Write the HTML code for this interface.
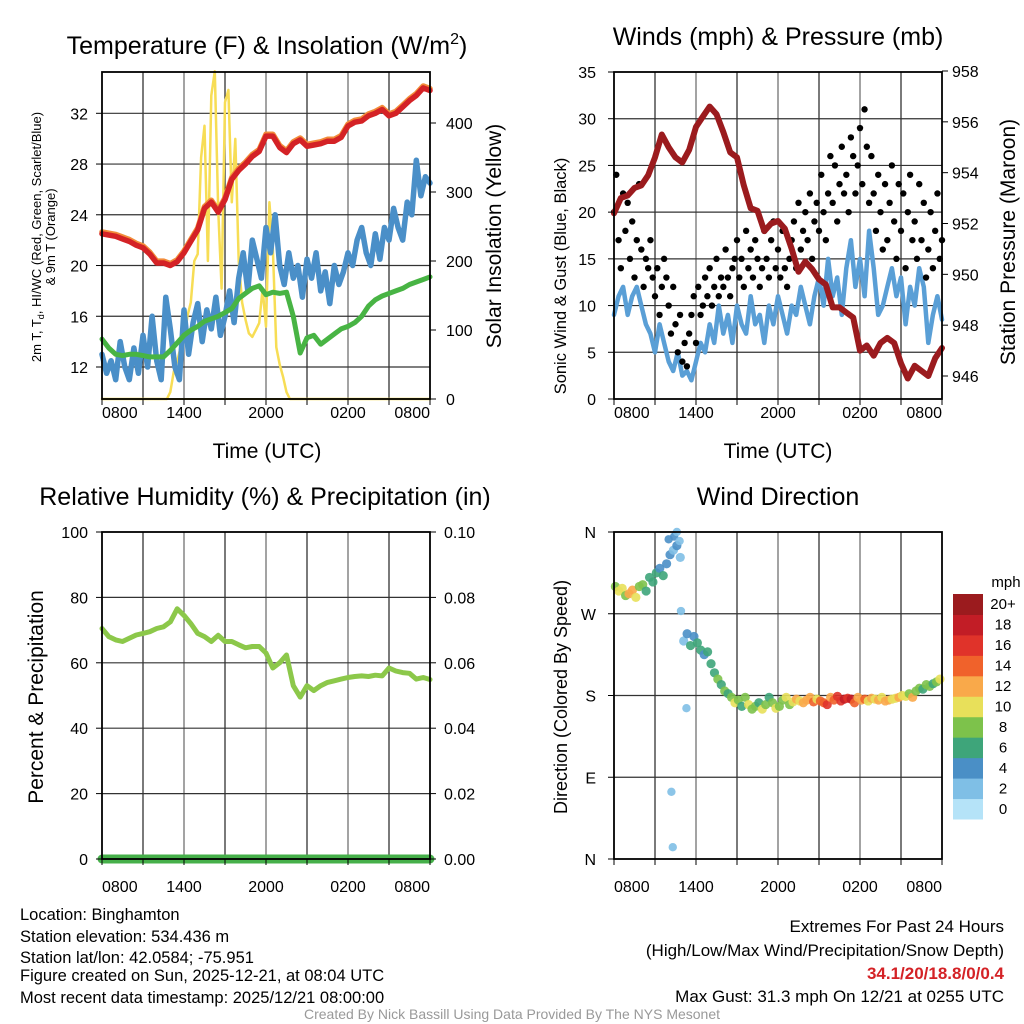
<!DOCTYPE html>
<html><head><meta charset="utf-8">
<style>
html,body{margin:0;padding:0;background:#fff;}
svg{display:block;font-family:"Liberation Sans",Arial,sans-serif;}
</style></head>
<body>
<svg id="root" width="1024" height="1024" viewBox="0 0 1024 1024">
<g id="layer-grid"></g>
<g id="layer-data"></g>
<g id="layer-axes"></g>
<g id="layer-text" font-size="16" fill="#000"></g>
</svg>
<script>
// ---------- DATA ----------
const xTickLabels = ["0800","1400","2000","0200","0800"];
const tempTicks = [12,16,20,24,28,32];
const solarTicks = [0,100,200,300,400];
const windTicks = [0,5,10,15,20,25,30,35];
const presTicks = [946,948,950,952,954,956,958];
const rhTicks = [0,20,40,60,80,100];
const precipTicks = ["0.00","0.02","0.04","0.06","0.08","0.10"];
const dirTickLabels = ["N","E","S","W","N"];
const speedBins = ["0","2","4","6","8","10","12","14","16","18","20+"];
const speedColors = ["#b5e3f8","#7fbfe6","#4a8fc6","#3ea57a","#7dc24b","#e8e05a","#f9a94a","#f0622b","#e0332a","#c21d26","#9b1b1e"];

const tempAir = [22.5,22.4,22.3,22.1,21.9,21.6,21.4,20.9,20.2,20.2,20.0,20.3,21.0,21.9,22.8,24.5,25.0,24.2,25.2,26.8,27.5,28.0,28.6,29.0,30.2,30.2,29.3,28.9,29.6,29.9,29.4,29.5,29.6,29.8,29.8,30.1,31.0,31.3,31.4,31.8,32.0,32.3,31.8,32.0,32.5,33.0,33.4,34.0,33.8];
const tempDew = [14.2,13.5,13.0,12.9,13.0,13.0,12.9,12.8,12.8,12.8,13.3,13.9,14.5,14.9,15.2,15.6,15.8,16.0,16.3,16.6,17.4,17.8,18.2,18.4,17.7,17.9,17.8,17.9,16.0,13.1,14.3,14.5,13.8,14.2,14.6,15.0,15.2,15.5,16.0,16.8,17.3,17.6,17.8,18.0,18.2,18.5,18.7,18.9,19.1];
const windChill = [13,11.5,12.5,11,14,12,11,13.5,11.5,14.5,12,16,12.5,11,17.5,15,12,11,16.5,13,15.5,17,14,16.5,15,17.5,14.5,16,18,15.5,19,21,18,22,20.5,19,23,21,24,20,18.5,21,19,20,17.5,20.5,19,21,18,19.5,17,20,18.5,19.5,21,20,22,23,21,20,22.5,20.5,23,22,24.5,23,22,25,24,28.3,25.5,27,26.5];
const solar = [0,0,0,0,0,0,0,0,0,0,0,0,0,0,0,0,0,0,0,0,10,40,55,75,82,120,140,200,210,350,396,200,440,475,275,160,430,448,285,377,200,140,115,95,90,100,110,160,105,285,220,75,50,32,10,0,0,0,0,0,0,0,0,0,0,0,0,0,0,0,0,0,0,0,0,0,0,0,0,0,0,0,0,0,0,0,0,0,0,0,0,0,0,0,0,0,0];

const sonicWind = [9,11,12,9,11,12,10,8,7,5,8,6,4,3,5,2.5,3,2,4,6,5,8,6,10,7,9,6,10,8,7,11,8,9,6,10,8,11,9,7,10,9,12,10,8,11,13,10,15,11,13,9,14,17,12,15,11,18,14,9,10,12,14,11,13,8,12,10,14,12,6,9,11,8.5];
const gusts = [20,24,17,14,22,18, 21,15,19,13,17,23, 16,12,15,14,17,13, 11,14,9,12,15,13, 10,7,12,8,5,9, 4,6,3.5,7,9,11, 6,12,9,10,13,11, 14,10,12,15,11,13, 12,16,13,11,14,15, 17,13,15,12,18,14, 16,13,17,15,12,14, 18,15,13,17,19,14, 16,13,18,14,12,15, 17,19,14,21,16,18, 20,17,22,15,19,21, 18,24,20,17,22,26, 21,25,19,23,27,22, 24,20,28,26,22,25, 29,23,31,27,21,26, 22,18,24,20,16,23, 17,21,25,19,15,23, 18,22,14,20,24,17, 19,15,23,17,21,13, 16,20,14,18,22,15, 17];
const pressure = [952.4,953.0,953.1,953.4,953.5,953.9,954.6,955.5,955.0,954.6,954.4,954.9,955.8,956.2,956.6,956.3,955.6,954.8,954.6,953.5,952.6,952.5,951.7,952.0,952.1,951.8,951.0,950.1,950.5,950.2,949.8,949.6,948.7,948.7,948.5,948.3,947.0,947.2,946.8,947.3,947.5,947.3,946.5,945.9,946.4,946.2,946.0,946.7,947.1];

const relHum = [70.5,68,67,66.5,67.5,68.5,69,69.5,70.5,71,72.5,76.5,74.5,72,69,68,66.5,68.4,66.5,66.5,65.5,64.6,65,65,63,58.4,60,62.4,53,49.5,53,51.5,53,54,54.5,55,55.5,55.8,56,55.8,56.2,56,58.4,57.5,57,56.8,55,55.5,54.9];
const precip = [0,0,0,0,0,0,0,0,0,0,0,0,0,0,0,0,0,0,0,0,0,0,0,0,0];

const windDir = [300,295,298,290, 292,296,288,300, 302,295,310,305, 315,320,312,325, 335,340,345,332, 240,248,235,245, 238,230,225,228, 215,205,198,192, 185,182,178,172, 175,168,178,170, 165,168,172,165, 170,178,172,166, 168,175,178,170, 173,176,174,172, 175,178,173,176, 174,172,170,178, 175,179,174,176, 177,176,172,178, 175,176,174,177, 176,175,178,174, 175,176,177,178, 180,179,182,178, 185,188,187,192, 190,193,195,198];
const windDirSpd = [9,10,11,8, 12,13,10,9, 8,7,6,7, 6,5,7,4, 4,3,4,3, 3,4,6,5, 6,7,5,7, 6,7,8,7, 8,7,9,10, 8,7,9,10, 8,9,7,10, 8,7,9,10, 8,9,10,9, 11,12,10,13, 13,12,14,11, 15,14,16,12, 15,17,16,18, 16,18,14,13, 12,14,11,13, 11,12,10,13, 12,10,11,13, 10,11,9,12, 9,8,7,8, 8,7,9,10];
const outlierHour = [4.0,4.4,4.6,4.8,4.9,4.2,4.3,5.3];
const outlierDir = [352,355,360,350,273,74,13,166];
const outlierSpd = [4,4,2,2,2,2,2,2];

// ---------- HELPERS ----------
const NS = "http://www.w3.org/2000/svg";
const gGrid = document.getElementById('layer-grid');
const gData = document.getElementById('layer-data');
const gAxes = document.getElementById('layer-axes');
const gText = document.getElementById('layer-text');
function mk(tag, attrs, parent){const e=document.createElementNS(NS,tag);for(const k in attrs)e.setAttribute(k,attrs[k]);parent.appendChild(e);return e;}
function txt(parent,x,y,s,opts){const t=mk('text',Object.assign({x:x,y:y},opts||{}),parent);t.textContent=s;return t;}

const P1={x0:102,x1:430,y0:72,y1:399};
const P2={x0:614,x1:942,y0:72,y1:399};
const P3={x0:102,x1:430,y0:532,y1:859};
const P4={x0:614,x1:942,y0:532,y1:859};
function xh(P,h){return P.x0+(P.x1-P.x0)*h/24;}
function lin(v,a,b,ya,yb){return ya+(v-a)*(yb-ya)/(b-a);}
const yTemp=v=>lin(v,32,12,113.3,367);
const ySolar=v=>lin(v,0,400,399,123);
const yWind=v=>lin(v,0,35,399,72);
const yPres=v=>lin(v,946,958,376,71);
const yRH=v=>lin(v,0,100,859,532);
const yPrecip=v=>lin(v,0,0.1,859,532);
const yDir=v=>lin(v,0,360,859,532);

function frame(P,name){
  for(let i=1;i<8;i++){const x=xh(P,i*3);
    const l=mk('line',{x1:x,x2:x,y1:P.y0,y2:P.y1,stroke:i%2?'#222':'#666','stroke-width':1.2},gGrid);
    }
  const r=mk('rect',{x:P.x0,y:P.y0,width:P.x1-P.x0,height:P.y1-P.y0,fill:'none',stroke:'#000','stroke-width':1.8},gAxes);
  
  for(let i=0;i<=8;i++){const x=xh(P,i*3);mk('line',{x1:x,x2:x,y1:P.y1,y2:P.y1+6,stroke:'#000','stroke-width':1},gAxes);}
}
function hgrid(P,y,name){const l=mk('line',{x1:P.x0,x2:P.x1,y1:y,y2:y,stroke:'#333','stroke-width':1.2},gGrid);
  }
function xLabels(P,y,name){
  xTickLabels.forEach((s,i)=>{const x=xh(P,i*6);
    const t=txt(gText,x,y,s,{'text-anchor':i==0?'start':(i==xTickLabels.length-1?'end':'middle')});
    });
}
function path(arr,P,yf){let d='';arr.forEach((v,i)=>{const h=24*i/(arr.length-1);d+=(i?'L':'M')+xh(P,h).toFixed(1)+' '+yf(v).toFixed(1);});return d;}
function line(arr,P,yf,color,w,name){const p=mk('path',{d:path(arr,P,yf),fill:'none',stroke:color,'stroke-width':w,'stroke-linejoin':'round','stroke-linecap':'round'},gData);
  return p;}
function speedColor(s){let i=Math.min(10,Math.max(0,Math.floor(s/2)));return speedColors[i];}

// ---------- PANEL 1 ----------
frame(P1,'temp');
tempTicks.forEach(v=>{hgrid(P1,yTemp(v),'temp-hgrid');
  mk('line',{x1:P1.x0-6,x2:P1.x0,y1:yTemp(v),y2:yTemp(v),stroke:'#000'},gAxes);
  const t=txt(gText,P1.x0-14,yTemp(v)+6,String(v),{'text-anchor':'end'});
  });
solarTicks.forEach(v=>{mk('line',{x1:P1.x1,x2:P1.x1+6,y1:ySolar(v),y2:ySolar(v),stroke:'#000'},gAxes);
  const t=txt(gText,P1.x1+16,ySolar(v)+6,String(v),{'text-anchor':'start'});
  });
xLabels(P1,418,'temp');
line(solar,P1,ySolar,'#f7dd55',2.5,'solar-insolation-line');
line(windChill,P1,yTemp,'#4a8fc8',5.5,'wind-chill-line');
line(tempDew,P1,yTemp,'#48b444',5,'dewpoint-line');
line(tempAir.map(v=>v+0.15),P1,yTemp,'#f28c3a',5.5,'9m-temp-line');
line(tempAir,P1,yTemp,'#d42226',5.5,'air-temp-line');
mk('line',{x1:P1.x0,x2:P1.x1,y1:P1.y1,y2:P1.y1,stroke:'#f0d040','stroke-width':2},gData);

// ---------- PANEL 2 ----------
frame(P2,'winds');
windTicks.forEach(v=>{if(v>0&&v<35)hgrid(P2,yWind(v),'winds-hgrid');
  mk('line',{x1:P2.x0-6,x2:P2.x0,y1:yWind(v),y2:yWind(v),stroke:'#000'},gAxes);
  const t=txt(gText,P2.x0-18,yWind(v)+6,String(v),{'text-anchor':'end'});
  });
presTicks.forEach(v=>{mk('line',{x1:P2.x1,x2:P2.x1+6,y1:yPres(v),y2:yPres(v),stroke:'#000'},gAxes);
  const t=txt(gText,P2.x1+10,yPres(v)+6,String(v),{'text-anchor':'start'});
  });
xLabels(P2,418,'winds');
line(sonicWind,P2,yWind,'#5a9fd6',4.5,'sonic-wind-line');
gusts.forEach((v,i)=>{const c=mk('circle',{cx:xh(P2,24*i/(gusts.length-1)),cy:yWind(v),r:3.2,fill:'#000'},gData);
  });
line(pressure,P2,yPres,'#9b1b1e',6,'pressure-line');

// ---------- PANEL 3 ----------
frame(P3,'rh');
rhTicks.forEach((v,i)=>{if(v>0&&v<100)hgrid(P3,yRH(v),'rh-hgrid');
  mk('line',{x1:P3.x0-6,x2:P3.x0,y1:yRH(v),y2:yRH(v),stroke:'#000'},gAxes);
  const t=txt(gText,P3.x0-14,yRH(v)+6,String(v),{'text-anchor':'end'});
  
  mk('line',{x1:P3.x1,x2:P3.x1+6,y1:yRH(v),y2:yRH(v),stroke:'#000'},gAxes);
  const t2=txt(gText,P3.x1+14,yRH(v)+6,precipTicks[i],{'text-anchor':'start'});
  });
xLabels(P3,892,'rh');
line(relHum,P3,yRH,'#8cc84a',5,'relative-humidity-line');
line(precip,P3,yPrecip,'#46b04a',9,'precipitation-line');

// ---------- PANEL 4 ----------
frame(P4,'wind-dir');
[0,90,180,270,360].forEach((v,i)=>{if(v>0&&v<360)hgrid(P4,yDir(v),'dir-hgrid');
  mk('line',{x1:P4.x0-6,x2:P4.x0,y1:yDir(v),y2:yDir(v),stroke:'#000'},gAxes);
  const t=txt(gText,P4.x0-18,yDir(v)+6,dirTickLabels[i],{'text-anchor':'end'});
  });
xLabels(P4,892,'wind-dir');
windDir.forEach((v,i)=>{const c=mk('circle',{cx:xh(P4,i/4+0.1),cy:yDir(v),r:4.6,fill:speedColor(windDirSpd[i]),'fill-opacity':0.9},gData);
  });
outlierDir.forEach((v,i)=>{const c=mk('circle',{cx:xh(P4,outlierHour[i]),cy:yDir(v),r:4.2,fill:speedColor(outlierSpd[i]),'fill-opacity':0.9},gData);
  });
const cbX=953,cbY0=594,cbY1=819,cbH=(cbY1-cbY0)/speedBins.length;
speedBins.forEach((s,i)=>{const j=speedBins.length-1-i;
  const r=mk('rect',{x:cbX,y:cbY0+j*cbH,width:30,height:cbH+0.5,fill:speedColors[i]},gData);
  
  const t=txt(gText,1003,cbY0+j*cbH+cbH/2+5,s,{'text-anchor':'middle','font-size':15});
  });
</script>
<script>
const T=document.getElementById('layer-text');
T.insertAdjacentHTML('beforeend',`
<text x="267" y="54" font-size="25" text-anchor="middle">Temperature (F) &amp; Insolation (W/m<tspan dy="-10" font-size="16">2</tspan><tspan dy="10">)</tspan></text>
<text x="778" y="45" font-size="25" text-anchor="middle">Winds (mph) &amp; Pressure (mb)</text>
<text x="265" y="505" font-size="25" text-anchor="middle">Relative Humidity (%) &amp; Precipitation (in)</text>
<text x="778" y="505" font-size="25" text-anchor="middle">Wind Direction</text>
<text x="267" y="458" font-size="21" text-anchor="middle">Time (UTC)</text>
<text x="778" y="458" font-size="21" text-anchor="middle">Time (UTC)</text>
<text transform="translate(41,237) rotate(-90)" font-size="13" text-anchor="middle">2m T, T<tspan dy="3" font-size="9">d</tspan><tspan dy="-3">, HI/WC (Red, Green, Scarlet/Blue)</tspan></text>
<text transform="translate(55,237) rotate(-90)" font-size="13" text-anchor="middle">&amp; 9m T (Orange)</text>
<text transform="translate(501,236) rotate(-90)" font-size="21" text-anchor="middle">Solar Insolation (Yellow)</text>
<text transform="translate(566,276) rotate(-90)" font-size="16.5" text-anchor="middle">Sonic Wind &amp; Gust (Blue, Black)</text>
<text transform="translate(1015,242) rotate(-90)" font-size="21" text-anchor="middle">Station Pressure (Maroon)</text>
<text transform="translate(43,697) rotate(-90)" font-size="21" text-anchor="middle">Percent &amp; Precipitation</text>
<text transform="translate(567,697) rotate(-90)" font-size="18" text-anchor="middle">Direction (Colored By Speed)</text>
<text x="1006" y="587" font-size="15" text-anchor="middle">mph</text>
<g font-size="16.5">
<text x="20" y="920">Location: Binghamton</text>
<text x="20" y="942">Station elevation: 534.436 m</text>
<text x="20" y="963">Station lat/lon: 42.0584; -75.951</text>
<text x="20" y="981">Figure created on Sun, 2025-12-21, at 08:04 UTC</text>
<text x="20" y="1003">Most recent data timestamp: 2025/12/21 08:00:00</text>
</g>
<g font-size="17">
<text x="1004" y="932" text-anchor="end">Extremes For Past 24 Hours</text>
<text x="1004" y="956" text-anchor="end">(High/Low/Max Wind/Precipitation/Snow Depth)</text>
<text x="1004" y="979" font-weight="bold" fill="#d42226" text-anchor="end">34.1/20/18.8/0/0.4</text>
<text x="1004" y="1002" text-anchor="end">Max Gust: 31.3 mph On 12/21 at 0255 UTC</text>
</g>
<text x="512" y="1019" font-size="14" fill="#999" text-anchor="middle">Created By Nick Bassill Using Data Provided By The NYS Mesonet</text>
`);
</script>
</body></html>
